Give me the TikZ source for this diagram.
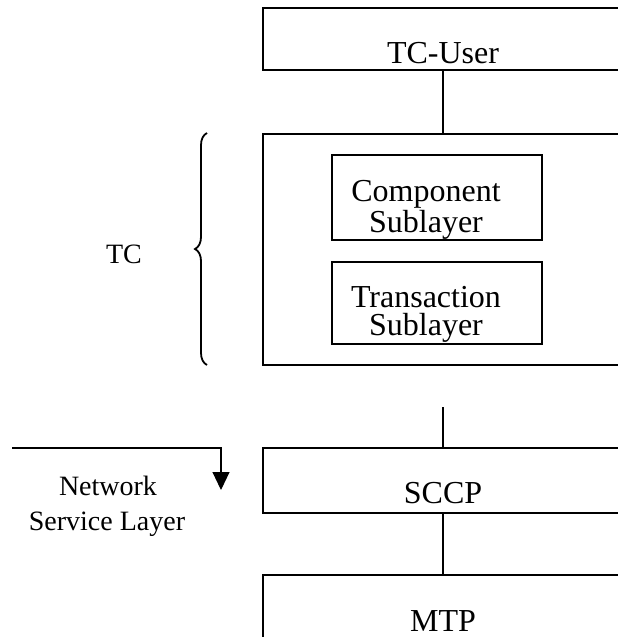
\documentclass[tikz,border=0pt]{standalone}
\usepackage{fontspec}
\setmainfont{Liberation Serif}
\usetikzlibrary{arrows.meta,decorations.pathreplacing}
\tikzset{
  layerbox/.style={draw, line width=1.2pt, inner sep=0pt, minimum width=360pt},
  subbox/.style={draw, line width=1.1pt, inner sep=0pt, minimum width=210pt},
  boxtext/.style={anchor=base, inner sep=0pt, font=\fontsize{32}{32}\selectfont},
  subtext/.style={anchor=base, inner sep=0pt, align=center, font=\fontsize{32}{28}\selectfont},
  sidetext/.style={anchor=base, inner sep=0pt, font=\fontsize{28}{28}\selectfont},
  link/.style={line width=1.1pt},
}
\begin{document}
\begin{tikzpicture}[x=1pt, y=-1pt]
\useasboundingbox (0,0) rectangle (618,637);
\clip (0,0) rectangle (618,637);
% layer boxes (extending beyond the right edge)
\node[layerbox, minimum height=62pt] (tcuser) at (443,39) {};
\node[layerbox, minimum height=231pt] (tc) at (443,249.5) {};
\node[subbox, minimum height=85pt] (comp) at (437,197.5) {};
\node[subbox, minimum height=82pt] (trans) at (437,303) {};
\node[layerbox, minimum height=65pt] (sccp) at (443,480.5) {};
\node[layerbox, minimum height=125pt] (mtp) at (443,637.5) {};
% texts (base anchor = baseline of the last line)
\node[boxtext] (tcusertxt) at (443,63) {TC-User};
\node[subtext] (comptxt) at (426,232) {Component\\Sublayer};
\node[subtext] (transtxt) at (426,335) {Transaction\\Sublayer};
\node[boxtext] (sccptxt) at (443,503) {SCCP};
\node[boxtext] (mtptxt) at (443,631) {MTP};
\node[sidetext] (tclabel) at (124,263) {TC};
\node[sidetext] (nsl1) at (108,495) {Network};
\node[sidetext] (nsl2) at (107,530) {Service Layer};
% connectors
\draw[link] (tcuser.south) -- (tc.north);
\coordinate (tcout) at (443,407);
\draw[link] (tcout) -- (sccp.north);
\draw[link] (sccp.south) -- (mtp.north);
% brace
\coordinate (bracebot) at (207,365);
\coordinate (bracetop) at (207,133);
\draw[line width=1.8pt, decorate, decoration={brace, amplitude=12pt}] (bracebot) -- (bracetop);
% network service layer arrow
\coordinate (nslstart) at (12,448);
\coordinate (nslend) at (221,490);
\draw[link, -{Triangle[length=18pt,width=17pt]}] (nslstart) -| (nslend);
\end{tikzpicture}
\end{document}
